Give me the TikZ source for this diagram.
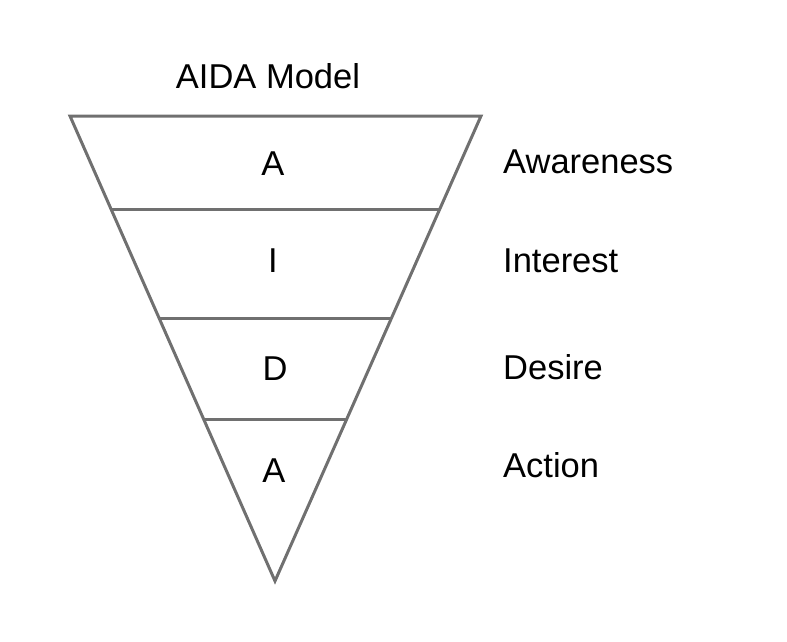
\documentclass[tikz,border=0pt]{standalone}
\usepackage{fontspec}
\setmainfont{Liberation Sans}
\definecolor{linegray}{HTML}{707070}
\begin{document}
\begin{tikzpicture}[x=1pt,y=-1pt,
  funnel/.style={draw=linegray,line width=3pt,line join=miter},
  sep/.style={draw=linegray,line width=3pt},
  txt/.style={inner sep=0pt,anchor=base,font=\fontsize{34.5}{41}\selectfont},
  lbl/.style={inner sep=0pt,anchor=base west,font=\fontsize{34.5}{41}\selectfont}]
\useasboundingbox (0,0) rectangle (787,641);
\coordinate (tl) at (70,116);
\coordinate (tr) at (481,116);
\coordinate (bt) at (275,581);
\draw[funnel] (tl) -- (tr) -- (bt) -- cycle;
\path (tl) -- (bt) coordinate[pos=0.2] (l1) coordinate[pos=0.4344] (l2) coordinate[pos=0.6516] (l3);
\path (tr) -- (bt) coordinate[pos=0.2] (r1) coordinate[pos=0.4344] (r2) coordinate[pos=0.6516] (r3);
\draw[sep] (l1) -- (r1);
\draw[sep] (l2) -- (r2);
\draw[sep] (l3) -- (r3);
\node[txt] (title) at (268,88) {AIDA Model};
\node[txt] (a1) at (273,175) {A};
\node[txt] (i1) at (273,272) {I};
\node[txt] (d1) at (275,380) {D};
\node[txt] (a2) at (274,482) {A};
\node[lbl] (aw) at (503,173) {Awareness};
\node[lbl] (in) at (503,272) {Interest};
\node[lbl] (de) at (503,379) {Desire};
\node[lbl] (ac) at (503,477) {Action};
\end{tikzpicture}
\end{document}
